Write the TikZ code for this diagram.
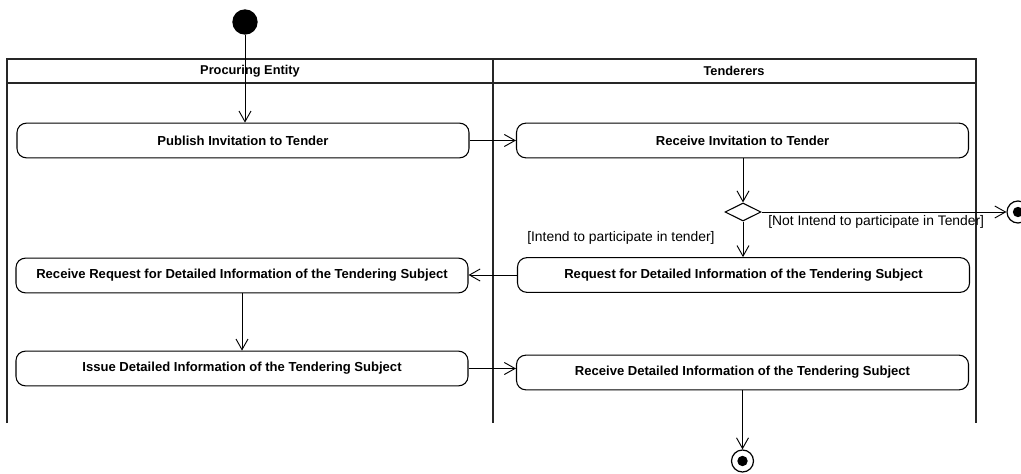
\documentclass[tikz,border=0pt]{standalone}
\usepackage{fontspec}
\setmainfont{Liberation Sans}
\usetikzlibrary{arrows.meta,shapes.geometric}
\begin{document}
\begin{tikzpicture}[x=0.75pt,y=-0.75pt,
  lane/.style={draw=black!85,line width=1.4pt},
  act/.style={draw,rounded corners=7pt,line width=0.8pt,minimum width=339pt,
    minimum height=26pt,inner sep=0pt,font=\fontsize{9.8}{11}\selectfont\bfseries},
  flow/.style={draw,line width=0.7pt,-{Straight Barb[length=8pt,width=9pt,line width=0.7pt]}},
  guard/.style={font=\fontsize{10.4}{12}\selectfont,inner sep=0pt},
  lanehead/.style={font=\fontsize{9.6}{11}\selectfont\bfseries,inner sep=0pt},
  choice/.style={draw,diamond,aspect=2,minimum width=27pt,minimum height=13.5pt,
    inner sep=0pt,line width=0.8pt},
  startnode/.style={circle,fill=black,minimum size=19pt,inner sep=0pt},
  endnode/.style={circle,draw,line width=0.9pt,minimum size=16.5pt,inner sep=0pt,
    path picture={\fill (path picture bounding box.center) circle (3.9pt);}}]
\useasboundingbox (0,0) rectangle (1021,474);
% swimlanes
\draw[lane] (7,423) -- (7,59) -- (976,59) -- (976,423);
\draw[lane] (7,83) -- (976,83);
\draw[lane] (493,59) -- (493,423);
\node[lanehead] (hpe) at (250,71) {Procuring Entity};
\node[lanehead] (hten) at (734,71) {Tenderers};
% nodes
\node[startnode] (start) at (245,22) {};
\node[act] (publish) at (243,140.5) {Publish Invitation to Tender};
\node[act] (recvinv) at (742.5,140.5) {Receive Invitation to Tender};
\node[choice] (dec) at (743,212) {};
\node[endnode] (endright) at (1018,212) {};
\node[act] (request) at (743.5,275) {Request for Detailed Information of the Tendering Subject};
\node[act] (recvreq) at (242,275.5) {Receive Request for Detailed Information of the Tendering Subject};
\node[act] (issue) at (242,368.5) {Issue Detailed Information of the Tendering Subject};
\node[act] (recvdet) at (742.5,372.5) {Receive Detailed Information of the Tendering Subject};
\node[endnode] (endbottom) at (742.5,461) {};
% guards
\node[guard,anchor=west] (gno) at (768,222) {[Not Intend to participate in Tender]};
\node[guard,anchor=west] (gyes) at (527,238) {[Intend to participate in tender]};
% flows
\draw[flow] (start) -- (start |- publish.north);
\draw[flow] (publish.east) -- (recvinv.west);
\draw[flow] (recvinv.south -| dec) -- (dec.north);
\draw[flow] (dec.east) -- (endright);
\draw[flow] (dec.south) -- (dec |- request.north);
\draw[flow] (request.west) -- (request.west -| recvreq.east);
\draw[flow] (recvreq.south) -- (recvreq.south |- issue.north);
\draw[flow] (issue.east) -- (issue.east -| recvdet.west);
\draw[flow] (recvdet.south) -- (endbottom);
\end{tikzpicture}
\end{document}
